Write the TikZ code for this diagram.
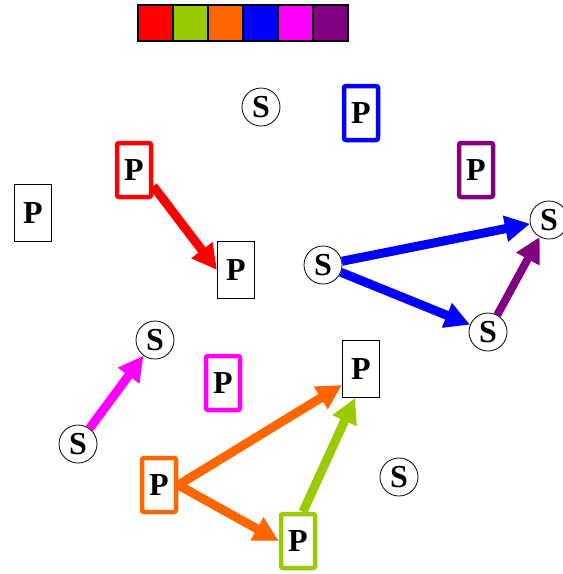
\documentclass[tikz,border=0pt]{standalone}
\usepackage{fontspec}
\setmainfont{Liberation Serif}
\usetikzlibrary{arrows.meta}
\definecolor{Cred}{RGB}{255, 0, 0}
\definecolor{Cgreen}{RGB}{153, 204, 0}
\definecolor{Corange}{RGB}{255, 102, 0}
\definecolor{Cblue}{RGB}{0, 0, 255}
\definecolor{Cmagenta}{RGB}{255, 0, 255}
\definecolor{Cpurple}{RGB}{128, 0, 128}
\newcommand{\letterfont}{\bfseries\fontsize{32}{32}\selectfont}
\newcommand{\tbox}[3]{
    \node(#1)[
        draw,
        line width=1pt,
        minimum width=37pt,
        minimum height=57pt,
        inner sep=0pt,
        font=\letterfont,
        fill=white,
        #2
    ]{#3};
}
\newcommand{\cbox}[3]{
    \node(#1)[
        draw,
        line width=4.5pt,
        rounded corners=2pt,
        minimum width=34pt,
        minimum height=54pt,
        inner sep=0pt,
        font=\letterfont,
        fill=white,
        #2
    ]{#3};
}
\newcommand{\sdisc}[3]{
    \node(#1)[
        draw,
        circle,
        line width=0.8pt,
        minimum size=38pt,
        inner sep=0pt,
        font=\letterfont,
        fill=white,
        #2
    ]{#3};
}

\begin{document}
\begin{tikzpicture}[x=1pt, y=-1pt, >={Triangle[length=25pt, width=25pt]}]
	\useasboundingbox (0,0) rectangle (563,574);

	% colour key
	\foreach \col [count=\i from 0] in {Cred, Cgreen, Corange, Cblue, Cmagenta, Cpurple}
	    \node(key\i)[draw, line width=1.2pt, fill=\col, minimum width=35pt, minimum height=36pt, inner sep=0pt] at (155.5+35*\i, 23) {};

	\sdisc{sTop}{at={(261,107)}}{S}
	\cbox{pBlue}{draw=Cblue, at={(361,113)}}{P}
	\cbox{pRed}{draw=Cred, at={(134,170)}}{P}
	\cbox{pPurple}{draw=Cpurple, at={(476,170)}}{P}
	\tbox{pLeft}{at={(33,213)}}{P}
	\tbox{pMid}{at={(236,270)}}{P}

	\sdisc{sHub}{at={(323,265)}}{S}
	\sdisc{sRight}{at={(549,220)}}{S}
	\sdisc{sLow}{at={(488,332)}}{S}

	\sdisc{sUp}{at={(155,340)}}{S}
	\sdisc{sDown}{at={(78,444)}}{S}
	\cbox{pMagenta}{draw=Cmagenta, at={(223,383)}}{P}
	\tbox{pGoal}{at={(361,369)}}{P}
	\cbox{pOrange}{draw=Corange, at={(159,485)}}{P}
	\cbox{pGreen}{draw=Cgreen, at={(298,541)}}{P}
	\sdisc{sAlone}{at={(399,477)}}{S}

	\draw[->, line width=9pt, color=Cred] (pRed.-40) -- (pMid.west);

	\draw[->, line width=9pt, color=Cblue] (sHub) -- (sRight);
	\draw[->, line width=9pt, color=Cblue] (sHub) -- (sLow);
	\draw[->, line width=8pt, color=Cpurple] (sLow) -- (sRight);

	\draw[->, line width=9pt, color=Cmagenta] (sDown) -- (sUp);

	\draw[->, line width=9pt, color=Corange] (pOrange.east) -- (pGoal.-140);
	\draw[->, line width=9pt, color=Corange] (pOrange.east) -- (pGreen.west);
	\draw[->, line width=9pt, color=Cgreen] ([xshift=5pt]pGreen.north) -- ([xshift=-6pt]pGoal.south);
\end{tikzpicture}
\end{document}
